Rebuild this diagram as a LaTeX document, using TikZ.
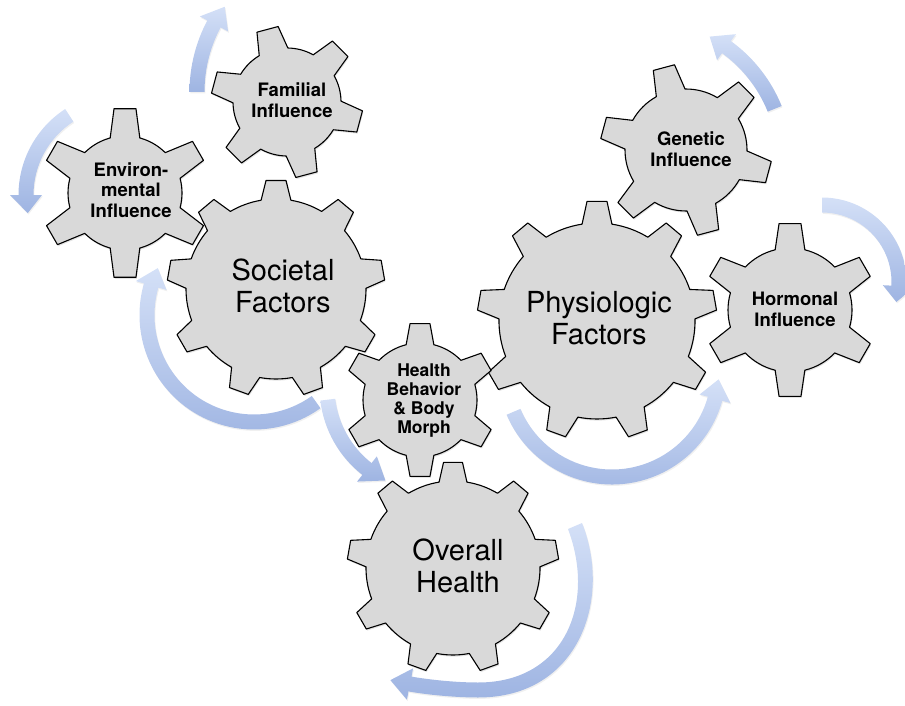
\documentclass[tikz,border=0pt]{standalone}
\usepackage{fontspec}
\setmainfont{TeX Gyre Heros}
\usetikzlibrary{shadows}
\definecolor{gearfill}{RGB}{217,217,217}
\definecolor{arrowtop}{RGB}{212,224,247}
\definecolor{arrowbot}{RGB}{158,180,226}
% circular arrow: cx, cy (screen), radius, start angle, end angle (head base), tip angle
\newcommand{\carrow}[6]{%
  \begin{scope}[shift={(#1,-#2)}]
    \shade[arrowshade] ({#4}:{#3+7.5}) arc[start angle={#4}, end angle={#5}, radius={#3+7.5}]
      -- ({#5}:{#3+16}) -- ({#6}:{#3}) -- ({#5}:{#3-16}) -- ({#5}:{#3-7.5})
      arc[start angle={#5}, end angle={#4}, radius={#3-7.5}] -- cycle;
  \end{scope}}
% gear: cx, cy (screen), outer R, root r, teeth, first tooth angle, tip half width, base half width
\newcommand{\gearshape}[8]{%
  \pgfmathsetmacro{\gStep}{360/#5}%
  \pgfmathsetmacro{\gTa}{deg(#7/#3)}%
  \pgfmathsetmacro{\gBa}{deg(#8/#4)}%
  \begin{scope}[shift={(#1,-#2)}]
    \filldraw[gearstyle] ({#6-\gBa}:#4) \foreach \k in {1,...,#5} {
      -- ({#6+(\k-1)*\gStep-\gTa}:#3) -- ({#6+(\k-1)*\gStep+\gTa}:#3)
      -- ({#6+(\k-1)*\gStep+\gBa}:#4)
      arc[start angle={#6+(\k-1)*\gStep+\gBa}, end angle={#6+\k*\gStep-\gBa}, radius=#4]
    } -- cycle;
  \end{scope}}
\begin{document}
\begin{tikzpicture}[x=1pt,y=1pt,
  gearstyle/.style={fill=gearfill, draw=black, line width=1.1pt, line join=round,
    drop shadow={shadow xshift=0.8pt, shadow yshift=-1.6pt, opacity=0.22}},
  arrowshade/.style={top color=arrowtop, bottom color=arrowbot, draw=none,
    drop shadow={shadow xshift=0.8pt, shadow yshift=-1.4pt, opacity=0.12}},
  smalltext/.style={align=center, inner sep=0pt, font=\fontsize{18.5}{20.7}\selectfont\bfseries},
  hbtext/.style={align=center, inner sep=0pt, font=\fontsize{17.5}{19}\selectfont\bfseries},
  bigtext/.style={align=center, inner sep=0pt, font=\fontsize{29}{32.5}\selectfont}]
\useasboundingbox (0,0) rectangle (905,-706);

% arrows
\carrow{342}{92}{145}{180}{152}{144}
\carrow{121}{195}{95}{123}{180}{191}
\carrow{643}{162}{142}{22}{54}{62}
\carrow{822}{282}{77}{90}{-3}{-15}
\carrow{254}{315}{107}{-54.5}{-196}{-206}
\carrow{431}{387}{104}{187}{232}{244}
\carrow{612}{370}{107}{203}{344.4}{355}
\shade[arrowshade] (582,-523) .. controls (612,-598) and (580,-697.5) .. (478,-697.5)
  .. controls (455,-697.5) and (425,-694.5) .. (408.5,-691.4)
  -- (406.9,-699.7) -- (390.4,-680.1) -- (413.1,-668.3) -- (411.5,-676.6)
  .. controls (428,-679.5) and (455,-682.5) .. (478,-682.5)
  .. controls (565,-682.5) and (596,-603) .. (568,-529) -- cycle;

% gears
\gearshape{125}{193}{85}{57}{6}{90}{11}{15}
\gearshape{287}{102}{76}{54}{6}{105}{11}{15}
\gearshape{686}{150}{86}{61}{6}{105}{11}{15}
\gearshape{790}{310}{87}{62}{6}{90}{11}{15}
\gearshape{276}{289}{109}{90}{9}{90}{10}{15}
\gearshape{597}{321}{120}{98}{9}{90}{10}{15}
\gearshape{420}{400}{77}{57}{6}{90}{10}{14}
\gearshape{453}{568}{106}{87}{9}{90}{9.5}{14}

% labels
\node[smalltext] (familial) at (292,-100) {Familial\\Influence};
\node[smalltext] (environ) at (131,-190) {Environ-\\mental\\Influence};
\node[smalltext] (genetic) at (691,-149) {Genetic\\Influence};
\node[smalltext] (hormonal) at (795,-309) {Hormonal\\Influence};
\node[hbtext] (hb) at (424,-401) {Health\\Behavior\\\& Body\\Morph};
\node[bigtext] (societal) at (283,-286) {Societal\\Factors};
\node[bigtext] (physio) at (599,-318) {Physiologic\\Factors};
\node[bigtext] (overall) at (458,-566) {Overall\\Health};
\end{tikzpicture}
\end{document}
